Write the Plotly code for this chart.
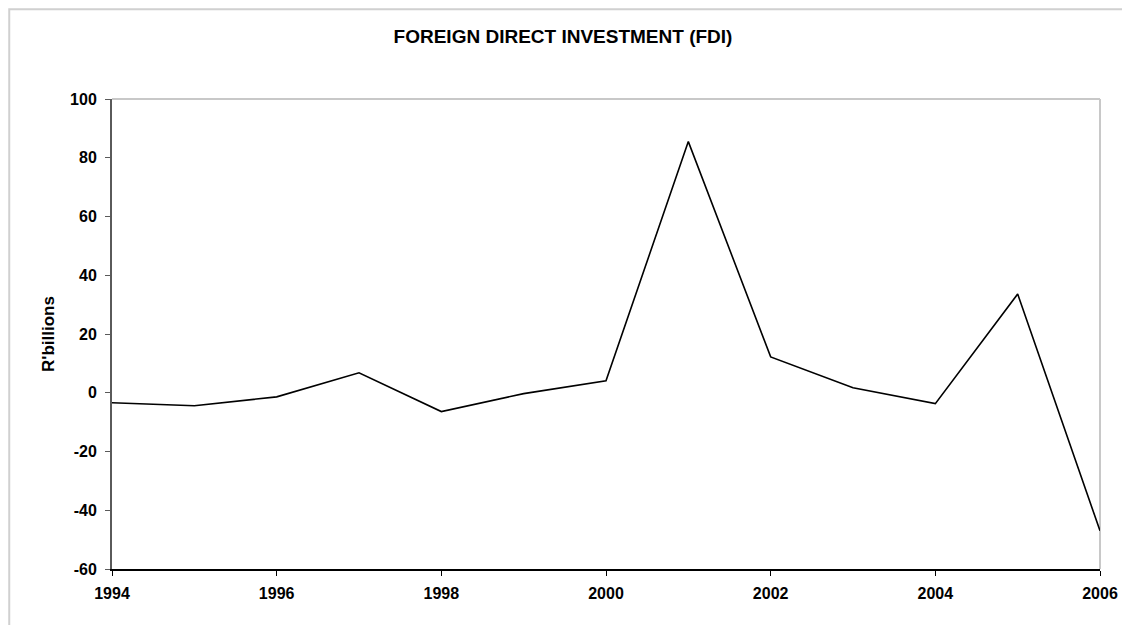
import plotly.graph_objects as go

years = [1994, 1995, 1996, 1997, 1998, 1999, 2000, 2001, 2002, 2003, 2004, 2005, 2006]
fdi = [-3.4, -4.4, -1.4, 6.8, -6.4, -0.3, 4.1, 85.5, 12.2, 1.7, -3.7, 33.6, -47.0]
y_ticks = [-60, -40, -20, 0, 20, 40, 60, 80, 100]
x_ticks = [1994, 1996, 1998, 2000, 2002, 2004, 2006]

FONT = "Liberation Sans, Arial, sans-serif"
W, H = 1122, 617  # page body adds an 8px margin

fig = go.Figure()
fig.add_trace(go.Scatter(x=years, y=fdi, mode="lines",
                         line=dict(color="black", width=1.6),
                         cliponaxis=False, showlegend=False))

fig.update_layout(
    width=W, height=H,
    margin=dict(l=104, r=28, t=91, b=56),
    paper_bgcolor="white", plot_bgcolor="white",
    title=dict(text="<b>FOREIGN DIRECT INVESTMENT (FDI)</b>",
               x=555 / W, xref="container", xanchor="center",
               y=1 - 28 / H, yref="container", yanchor="middle",
               font=dict(family=FONT, size=19, color="black")),
    font=dict(family=FONT, size=16, color="black"),
    xaxis=dict(range=[1994, 2006], tickvals=x_ticks,
               ticktext=[f"<b>{t}</b>" for t in x_ticks],
               showgrid=False, zeroline=False,
               showline=True, linecolor="black", linewidth=1.5,
               ticks="outside", ticklen=5, tickcolor="black",
               ticklabelstandoff=4,
               tickfont=dict(family=FONT, size=16, color="black")),
    yaxis=dict(range=[-60, 100], tickvals=y_ticks,
               ticktext=[f"<b>{t}</b>" for t in y_ticks],
               showgrid=False, zeroline=False,
               showline=True, linecolor="#5a5a5a", linewidth=2,
               ticks="outside", ticklen=5, tickcolor="#5a5a5a",
               ticklabelstandoff=5,
               tickfont=dict(family=FONT, size=16, color="black"),
               title=dict(text="<b>R'billions</b>", standoff=11,
                          font=dict(family=FONT, size=17, color="black"))),
)

# plot-area top and right borders
fig.add_shape(type="line", xref="paper", yref="paper", x0=0, x1=1, y0=1, y1=1,
              line=dict(color="#c8c8c8", width=2), layer="below")
fig.add_shape(type="line", xref="paper", yref="paper", x0=1, x1=1, y0=0, y1=1,
              line=dict(color="#c8c8c8", width=2), layer="below")
# outer chart frame
fig.add_shape(type="rect", xref="paper", yref="paper",
              x0=-0.104, x1=1.2, y0=-0.3, y1=1.191,
              line=dict(color="#d0d0d0", width=2), layer="below")

fig.write_html("out.html")
